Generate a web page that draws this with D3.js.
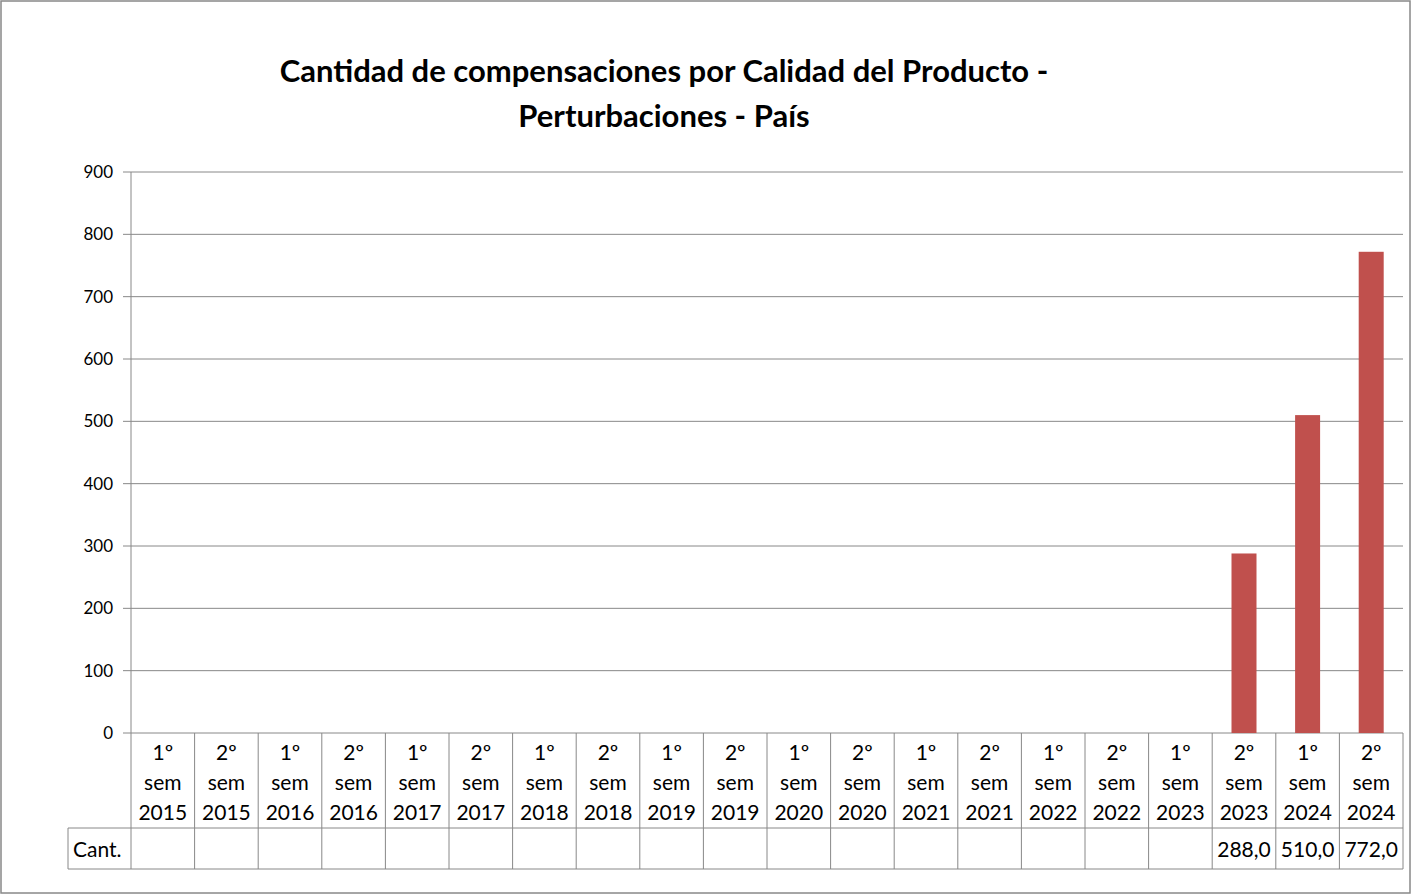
<!DOCTYPE html>
<html><head><meta charset="utf-8">
<script src="https://cdn.jsdelivr.net/npm/d3@7"></script>
<style>body{margin:0;background:#fff}text{font-family:Lato,"Open Sans",sans-serif}</style>
</head><body>
<svg id="c" width="1412" height="895"></svg>
<script>
// categories and values
var semesters = ["1º","2º","1º","2º","1º","2º","1º","2º","1º","2º","1º","2º","1º","2º","1º","2º","1º","2º","1º","2º"];
var years = ["2015","2015","2016","2016","2017","2017","2018","2018","2019","2019","2020","2020","2021","2021","2022","2022","2023","2023","2024","2024"];
var cant = [null,null,null,null,null,null,null,null,null,null,null,null,null,null,null,null,null,288,510,772];
var yTicks = [0,100,200,300,400,500,600,700,800,900];

var svg = d3.select("#c");
svg.append("rect").attr("x",1).attr("y",1).attr("width",1409).attr("height",892)
  .attr("fill","#fff").attr("stroke","#888").attr("stroke-width",1.5);

svg.append("text").attr("x",664).attr("y",82).attr("text-anchor","middle")
  .attr("font-size",31).attr("font-weight","bold").text("Cantidad de compensaciones  por  Calidad del Producto -");
svg.append("text").attr("x",664).attr("y",127).attr("text-anchor","middle")
  .attr("font-size",31).attr("font-weight","bold").text("Perturbaciones - País");

var x = d3.scaleBand().domain(d3.range(cant.length)).range([131,1403]);
var y = d3.scaleLinear().domain([0,900]).range([733,172]);

// gridlines + ticks
svg.append("g").selectAll("line").data(yTicks).join("line")
  .attr("x1",123).attr("x2",1403).attr("y1",d=>y(d)).attr("y2",d=>y(d))
  .attr("stroke","#888").attr("stroke-width",1);
svg.append("g").selectAll("text").data(yTicks).join("text")
  .attr("x",113).attr("y",d=>y(d)+6).attr("text-anchor","end")
  .attr("font-size",17).text(d=>d);
svg.append("line").attr("x1",131).attr("x2",131).attr("y1",172).attr("y2",733).attr("stroke","#888");

// bars
svg.append("g").selectAll("rect").data(cant.map((v,i)=>({v,i})).filter(d=>d.v!=null)).join("rect")
  .attr("x",d=>x(d.i)+x.bandwidth()/2-12.5).attr("width",25)
  .attr("y",d=>y(d.v)).attr("height",d=>y(0)-y(d.v)).attr("fill","#C0504D");

// data table
var g = svg.append("g").attr("stroke","#888").attr("fill","none");
g.append("line").attr("x1",68).attr("x2",1403).attr("y1",828).attr("y2",828);
g.append("line").attr("x1",68).attr("x2",1403).attr("y1",869).attr("y2",869);
g.append("line").attr("x1",68).attr("x2",68).attr("y1",828).attr("y2",869);
g.append("line").attr("x1",1403).attr("x2",1403).attr("y1",733).attr("y2",869);
g.selectAll(".v").data(d3.range(cant.length)).join("line")
  .attr("x1",d=>x(d)).attr("x2",d=>x(d)).attr("y1",733).attr("y2",869);

var lab = svg.append("g").attr("font-size",21).attr("fill","#000").attr("text-anchor","middle");
cant.forEach(function(v,i){
  var cx = x(i)+x.bandwidth()/2;
  lab.append("text").attr("x",cx).attr("y",760).text(semesters[i]);
  lab.append("text").attr("x",cx).attr("y",790).text("sem");
  lab.append("text").attr("x",cx).attr("y",820).text(years[i]);
  if (v!=null) lab.append("text").attr("x",cx).attr("y",857).text(d3.format(".1f")(v).replace(".",","));
});
lab.append("text").attr("x",73).attr("y",857).attr("text-anchor","start").text("Cant.");
</script>
</body></html>
